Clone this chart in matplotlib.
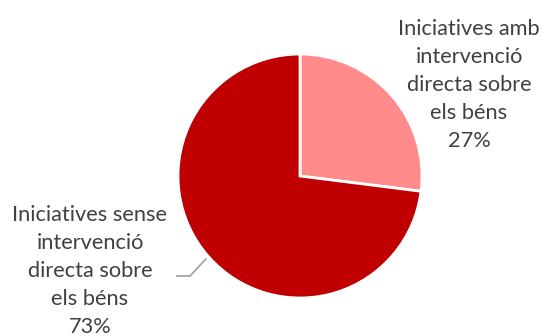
import numpy as np
import matplotlib.pyplot as plt

plt.rcParams['font.family'] = ['Lato', 'DejaVu Sans']

labels = ['Iniciatives amb\nintervenció\ndirecta sobre\nels béns',
          'Iniciatives sense\nintervenció\ndirecta sobre\nels béns']
shares = [27, 73]
colors = ['#FF8B8B', '#C00000']

fig = plt.figure(figsize=(5.44, 3.36), dpi=100)
ax = fig.add_axes([0, 0, 1, 1])

cx, cy, r = 300, 160, 122
wedges, _ = ax.pie(shares, colors=colors, startangle=90, counterclock=False,
                   center=(cx, cy), radius=r, frame=True,
                   wedgeprops=dict(edgecolor='white', linewidth=2))
ax.set_xlim(0, 544)
ax.set_ylim(0, 336)
ax.set_aspect('equal')
ax.axis('off')

txt = dict(color='#404040', fontsize=15.7, ha='center', va='center', linespacing=1.5)
ax.text(469, 336 - 85, labels[0] + '\n' + f'{shares[0]}%', **txt)
ax.text(90, 336 - 271, labels[1] + '\n' + f'{shares[1]}%', **txt)

# leader line for the big slice
w = wedges[1]
mid = np.deg2rad((w.theta1 + w.theta2) / 2)
x0, y0 = cx + 1.03 * r * np.cos(mid), cy + 1.03 * r * np.sin(mid)
ax.plot([x0, 190, 177], [y0, 336 - 276, 336 - 276], color='#A6A6A6', lw=1.3)

fig.savefig('out.png', dpi=100)
